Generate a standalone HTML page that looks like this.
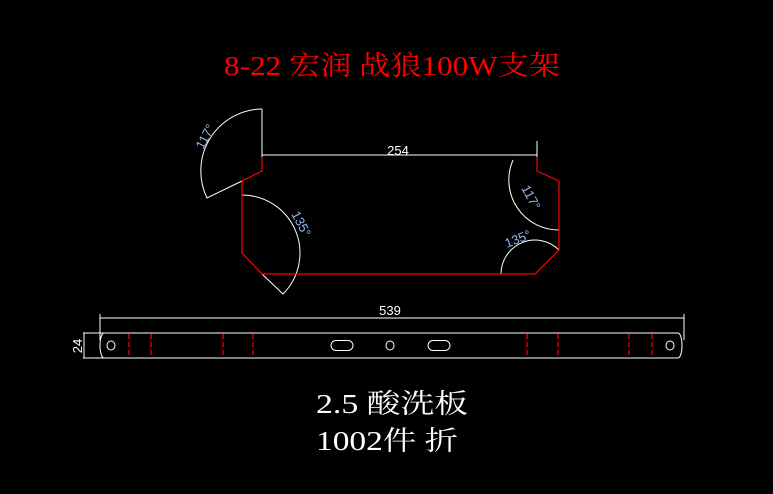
<!DOCTYPE html>
<html><head><meta charset="utf-8"><style>html,body{margin:0;padding:0;background:#000;width:773px;height:494px;overflow:hidden}</style></head>
<body>
<svg width="773" height="494" viewBox="0 0 773 494" xmlns="http://www.w3.org/2000/svg" style="display:block">
<rect width="773" height="494" fill="#000"/>
<text x="224" y="75" font-family="Liberation Serif, Noto Serif CJK SC, serif" font-size="27" fill="#ff0000" textLength="336" lengthAdjust="spacingAndGlyphs">8-22 宏润 战狼100W支架</text>
<g fill="none" stroke="#fff" stroke-width="1">
<line x1="262" y1="109" x2="262" y2="157"/>
<line x1="537" y1="141" x2="537" y2="157"/>
<line x1="262" y1="155" x2="537" y2="155"/>
<path d="M262 109 A62 62 0 0 0 207 198 L242 181"/>
<path d="M242 195 A58 58 0 0 1 283 294 L262 274"/>
<path d="M513 160 A50 50 0 0 0 559 230"/>
<path d="M501 274 A34 34 0 0 1 559 250"/>
</g>
<polyline points="262,157 262,171 242,181 242,253 262,274 535,274 559,250 559,181 537,171 537,157" fill="none" stroke="#ff0000" stroke-width="1.2"/>
<text x="398" y="155" font-family="Liberation Sans, sans-serif" font-size="13" fill="#fff" text-anchor="middle">254</text>
<g font-family="Liberation Sans, sans-serif" font-size="13" fill="#8fb8e8">
<text transform="translate(203,150) rotate(-62)">117°</text>
<text transform="translate(291,214) rotate(62)">135°</text>
<text transform="translate(521,188) rotate(62)">117°</text>
<text transform="translate(507,248) rotate(-22)">135°</text>
</g>
<g fill="none" stroke="#fff" stroke-width="1">
<line x1="100" y1="318" x2="684" y2="318"/>
<line x1="100" y1="314" x2="100" y2="340"/>
<line x1="684" y1="314" x2="684" y2="340"/>
<line x1="84" y1="333" x2="84" y2="358"/>
<line x1="83" y1="333" x2="104" y2="333"/>
<line x1="83" y1="358" x2="104" y2="358"/>
<path d="M104 333 L678 333 A4 12.5 0 0 1 678 358 L104 358 A4 12.5 0 0 1 104 333"/>
<ellipse cx="111" cy="345.5" rx="4" ry="4.5"/>
<ellipse cx="670" cy="345.5" rx="4" ry="4.5"/>
<ellipse cx="390" cy="345.5" rx="4" ry="4.5"/>
<rect x="331" y="340.5" width="22" height="10" rx="5"/>
<rect x="428" y="340.5" width="22" height="10" rx="5"/>
</g>
<g stroke="#ff0000" stroke-width="1.2" stroke-dasharray="5,3">
<line x1="129" y1="334" x2="129" y2="358"/>
<line x1="151" y1="334" x2="151" y2="358"/>
<line x1="223" y1="334" x2="223" y2="358"/>
<line x1="253" y1="334" x2="253" y2="358"/>
<line x1="527" y1="334" x2="527" y2="358"/>
<line x1="558" y1="334" x2="558" y2="358"/>
<line x1="629" y1="334" x2="629" y2="358"/>
<line x1="652" y1="334" x2="652" y2="358"/>
</g>
<text x="390" y="315" font-family="Liberation Sans, sans-serif" font-size="13" fill="#fff" text-anchor="middle">539</text>
<text transform="translate(82,346) rotate(-90)" font-family="Liberation Sans, sans-serif" font-size="13" fill="#fff" text-anchor="middle">24</text>
<text x="316" y="413" font-family="Liberation Serif, Noto Serif CJK SC, serif" font-size="27" fill="#fff" textLength="152" lengthAdjust="spacingAndGlyphs">2.5 酸洗板</text>
<text x="316" y="450" font-family="Liberation Serif, Noto Serif CJK SC, serif" font-size="27" fill="#fff" textLength="142" lengthAdjust="spacingAndGlyphs">1002件 折</text>
</svg>
</body></html>
